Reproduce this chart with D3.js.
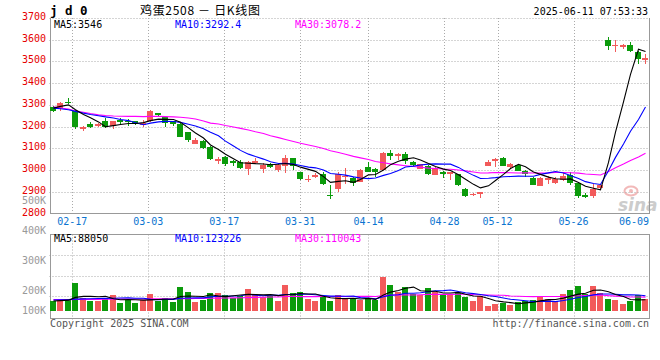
<!DOCTYPE html>
<html><head><meta charset="utf-8">
<script src="https://cdn.jsdelivr.net/npm/d3@7"></script>
<style>body{margin:0;background:#fff}svg{display:block}</style>
</head><body><svg id="c" width="660" height="360"></svg>
<script>
const dates = ["02-12","02-13","02-14","02-17","02-18","02-19","02-20","02-21","02-24","02-25","02-26","02-27","02-28",
"03-03","03-04","03-05","03-06","03-07","03-10","03-11","03-12","03-13","03-14","03-17","03-18","03-19","03-20","03-21",
"03-24","03-25","03-26","03-27","03-28","03-31","04-01","04-02","04-03","04-07","04-08","04-09","04-10","04-11",
"04-14","04-15","04-16","04-17","04-18","04-21","04-22","04-23","04-24","04-25","04-28","04-29","04-30",
"05-06","05-07","05-08","05-09","05-12","05-13","05-14","05-15","05-16","05-19","05-20","05-21","05-22","05-23",
"05-26","05-27","05-28","05-29","05-30","06-03","06-04","06-05","06-06","06-09","06-10"];
const open  = [3290,3287,3314,3271,3194,3210,3203,3225,3205,3230,3228,3225,3212,3225,3262,3245,3225,3213,3174,3122,
3134,3108,3046,3062,3042,3037,3007,3031,3005,3030,2999,3017,3055,2991,2955,2969,2984,2886,2912,2971,
2963,2946,3016,3006,3000,3078,3065,3072,3037,3007,3018,2977,2991,2980,2980,2914,2883,2888,3019,3043,
3056,3015,3022,2996,2964,2927,2959,2941,2953,2975,2940,2884,2880,2916,3601,3572,3569,3578,3545,3505];
const high  = [3296,3313,3330,3277,3204,3221,3215,3238,3226,3238,3236,3227,3229,3278,3264,3248,3228,3222,3176,3149,
3137,3110,3062,3064,3048,3044,3040,3057,3032,3034,3033,3071,3057,2993,2978,2985,2990,2930,2990,3008,
2970,3007,3037,3008,3082,3094,3077,3083,3040,3030,3022,3012,2994,2993,2983,2919,2893,2901,3048,3057,
3058,3031,3024,2998,2966,2966,2972,2970,2991,2990,2943,2893,2935,2938,3612,3597,3581,3589,3546,3532];
const low   = [3266,3271,3304,3188,3181,3194,3200,3194,3190,3214,3202,3206,3196,3222,3250,3200,3202,3150,3129,3120,
3097,3045,3030,3018,3019,3006,2976,3028,2985,3008,2990,2987,3000,2953,2944,2962,2932,2869,2899,2936,
2925,2944,2990,2968,2998,3048,3048,3030,3020,3005,2978,2975,2965,2956,2925,2878,2880,2872,3017,3013,
3017,3008,2994,2968,2930,2925,2938,2935,2948,2930,2872,2870,2872,2912,3551,3543,3556,3545,3489,3490];
const close = [3272,3308,3307,3198,3196,3196,3211,3196,3224,3221,3220,3212,3215,3270,3255,3215,3210,3152,3138,3137,
3100,3050,3049,3027,3032,3011,3037,3040,3021,3012,3022,3055,3017,2961,2960,2977,2935,2883,2984,2974,
2941,2999,2992,2992,3078,3064,3075,3042,3024,3027,2981,3010,2980,2990,2930,2880,2891,2899,3037,3052,
3020,3026,2997,2981,2933,2964,2962,2960,2971,2940,2880,2878,2914,2933,3570,3576,3574,3548,3512,3518];
const volume = [77000,93000,85000,222000,103000,77000,77000,103000,125000,64000,
90000,64000,90000,133000,77000,103000,71000,191000,151000,71000,
90000,143000,143000,125000,106000,117000,172000,133000,111000,117000,
79000,204000,143000,151000,98000,79000,117000,79000,125000,93000,
93000,85000,106000,85000,270000,204000,151000,191000,133000,125000,
183000,151000,125000,133000,146000,111000,79000,119000,40000,59000,
64000,51000,71000,77000,85000,119000,98000,77000,133000,164000,
196000,133000,196000,143000,93000,91000,53000,79000,125000,98000];
// moving-average values visible before a full window exists
const ma5Head  = [3285,3293,3300,3278];
const ma10Head = [3285,3282,3278,3270,3262,3256,3250,3245,3240];
const ma30Head = [3291,3286,3281,3272,3266,3260,3254,3251,3249,3248,3247,3247,3246,3247,3247,3246,3245,3243,3240,3235,3226,3216,3212,3205,3198,3192,3184,3176,3168];
const vma5Head  = [79000,82000,86000,108000];
const vma10Head = [87000,89000,91000,94000,96000,97000,99000,100000,101000];
const vma30Head = [90000,90000,90000,91000,91000,92000,92000,93000,93000,94000,94000,95000,95000,96000,96000,97000,97000,98000,98000,99000,100000,101000,102000,103000,104000,105000,106000,108000,109000];
const dateTicks  = ["02-17","03-03","03-17","03-31","04-14","04-28","05-12","05-26","06-09"];
const priceTicks = [3700,3600,3500,3400,3300,3200,3100,3000,2900,2800];
const volTicks   = [500000,400000,300000,200000,100000];
const priceLegend = ["MA5:3546","MA10:3292.4","MA30:3078.2"];
const volLegend   = ["MA5:88050","MA10:123226","MA30:110043"];
const maColors = ["#000000","#0000ff","#ff00ff"];

const RED="#f25a5a", GREEN="#0b9b0b", GRID="#aaaaaa", FRAME="#999999";
const MONO="'DejaVu Sans Mono', 'Liberation Mono', monospace";
const svg = d3.select("#c");
const L=49.5, R=649.5, pTop=18, pBot=213.5, vTop=234.5, vBot=318.5;

const x  = d3.scaleBand().domain(dates).range([L,R]);
const xg = d3.scalePoint().domain(dates).range([L,R]);
const yP = d3.scaleLinear().domain([2800,3700]).range([pBot,pTop]);
const yV = d3.scaleLinear().domain([0,100000]).range([311,298.4]);
const yVLabel = d3.scaleLinear().domain([200000,500000]).range([290.7,200]);
const cx = d => Math.floor(x(d)+x.bandwidth()/2);

function movingAverage(vals,n,head){
  return vals.map((v,i)=> i<n-1 ? head[i] : d3.mean(vals.slice(i-n+1,i+1)));
}

// watermark
const wm = svg.append("g").attr("opacity",0.8);
wm.append("ellipse").attr("cx",631).attr("cy",191).attr("rx",6.5).attr("ry",4.5).attr("fill","none").attr("stroke","#f0a8a8").attr("stroke-width",2);
wm.append("circle").attr("cx",631).attr("cy",191).attr("r",2).attr("fill","#f0a8a8");
wm.append("text").attr("x",618).attr("y",211).text("sina").attr("font-family","'DejaVu Sans', sans-serif").attr("font-weight","bold").attr("font-style","italic").attr("font-size",17).attr("fill","#c0c0c0");

// grid - price
const g = svg.append("g");
priceTicks.forEach(t=>{
  const yy=Math.round(yP(t))+0.5;
  if(t>2800) g.append("line").attr("x1",L).attr("x2",R).attr("y1",yy).attr("y2",yy).attr("stroke",GRID).attr("stroke-dasharray","1,2");
});
dateTicks.slice(0,-1).forEach(d=>{
  const xx=Math.round(xg(d))+0.5;
  g.append("line").attr("x1",xx).attr("x2",xx).attr("y1",pTop).attr("y2",pBot).attr("stroke",GRID).attr("stroke-dasharray","1,2");
  g.append("line").attr("x1",xx).attr("x2",xx).attr("y1",vTop).attr("y2",vBot+2).attr("stroke",GRID).attr("stroke-dasharray","1,2");
});
// volume grid
d3.range(1,4).forEach(k=>{
  const yy=Math.round(vTop+k*(316.5-vTop)/4)+0.5;
  g.append("line").attr("x1",L).attr("x2",R).attr("y1",yy).attr("y2",yy).attr("stroke",GRID).attr("stroke-dasharray","1,2");
});
// frames
g.append("path").attr("d",`M${L+0.5},${pTop}V${pBot}H${R}V${pTop}`).attr("fill","none").attr("stroke",FRAME).attr("shape-rendering","crispEdges");
g.append("path").attr("d",`M${L+0.5},${vTop}V${vBot}H${R}V${vTop}Z`).attr("fill","none").attr("stroke",FRAME).attr("shape-rendering","crispEdges");

// candles
const cg = svg.append("g").attr("shape-rendering","crispEdges");
dates.forEach((d,i)=>{
  const up = close[i]>=open[i], col = up?RED:GREEN, c=cx(d);
  cg.append("line").attr("x1",c+0.5).attr("x2",c+0.5).attr("y1",yP(high[i])).attr("y2",yP(low[i])).attr("stroke",col);
  const t=yP(Math.max(open[i],close[i])), b=yP(Math.min(open[i],close[i]));
  cg.append("rect").attr("x",c-3).attr("width",6).attr("y",t).attr("height",Math.max(1.5,b-t)).attr("fill",col);
  cg.append("rect").attr("x",c-3).attr("width",6).attr("y",yV(volume[i])).attr("height",yV(0)-yV(volume[i])).attr("fill",col);
});

// MA lines
const pMA=[movingAverage(close,5,ma5Head),movingAverage(close,10,ma10Head),movingAverage(close,30,ma30Head)];
const vMA=[movingAverage(volume,5,vma5Head),movingAverage(volume,10,vma10Head),movingAverage(volume,30,vma30Head)];
const lineP=d3.line().x((v,i)=>cx(dates[i])+0.5).y(v=>yP(v));
const lineV=d3.line().x((v,i)=>cx(dates[i])+0.5).y(v=>yV(v));
[2,1,0].forEach(k=>{
  svg.append("path").attr("d",lineP(pMA[k])).attr("fill","none").attr("stroke",maColors[k]).attr("stroke-width",1.1);
  svg.append("path").attr("d",lineV(vMA[k])).attr("fill","none").attr("stroke",maColors[k]).attr("stroke-width",1.1);
});

// axis labels
const txt=(xx,yy,s,fill,anchor,size)=>svg.append("text").attr("x",xx).attr("y",yy).text(s).attr("fill",fill).attr("text-anchor",anchor||"start").attr("font-family",MONO).attr("font-size",size||10).attr("dominant-baseline","central");
priceTicks.forEach(t=>txt(46,yP(t)-1.5,t,"#e60000","end"));
volTicks.forEach(v=>txt(46,Math.min(yVLabel(v),310),(v/1000)+"K","#999999","end"));
dateTicks.forEach(d=>{
  const xx=Math.min(xg(d), R-15.5);
  txt(xx,221.7,d,"#0a74d0","middle");
});
[54,175,295].forEach((xx,k)=>{
  txt(xx,24.5,priceLegend[k],maColors[k]);
  txt(xx,238,volLegend[k],maColors[k]);
});
txt(50,10.5,"j d 0","#000","start",12.5).attr("font-weight","bold");
svg.append("text").attr("x",140).attr("y",14.5).attr("font-family","'Noto Sans CJK SC', sans-serif").attr("font-size",12).attr("fill","#000").attr("textLength",120).attr("lengthAdjust","spacing").text("鸡蛋2508 － 日K线图");
txt(648,11,"2025-06-11 07:53:33","#000","end");
txt(50,323.5,"Copyright 2025 SINA.COM","#555","start");
txt(649,323.5,"http://finance.sina.com.cn","#555","end");
</script></body></html>
